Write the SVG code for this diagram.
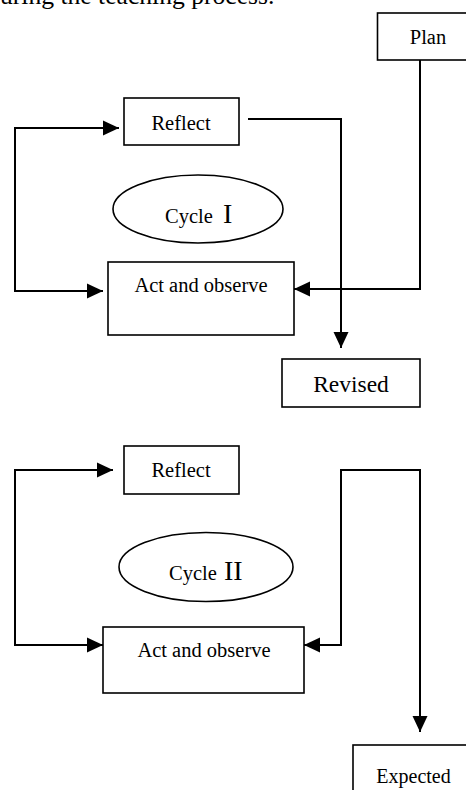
<svg xmlns="http://www.w3.org/2000/svg" width="466" height="790" viewBox="0 0 466 790">
<style>
.box{fill:#fff;stroke:#000;stroke-width:1.6}
.conn{fill:none;stroke:#000;stroke-width:2}
.t{font-family:"Liberation Serif","Times New Roman",serif;fill:#000}
.m{font-size:20.5px;text-anchor:middle}
</style>
<defs>
<marker id="arr" viewBox="0 0 16 16" refX="16" refY="8" markerWidth="16" markerHeight="16" markerUnits="userSpaceOnUse" orient="auto-start-reverse">
<path d="M0,0.5 L16,8 L0,15.5 z" fill="#000"/>
</marker>
</defs>
<rect width="466" height="790" fill="#fff"/>
<text class="t" x="0" y="4" font-size="25.6">uring the teaching process.</text>

<g id="connectors">
<path class="conn" d="M420,60 V289 H294" marker-end="url(#arr)"/>
<path class="conn" d="M248,119 H341 V348" marker-end="url(#arr)"/>
<path class="conn" d="M119,128 H15 V291 H103" marker-start="url(#arr)" marker-end="url(#arr)"/>
<path class="conn" d="M113,470 H15 V645 H103" marker-start="url(#arr)" marker-end="url(#arr)"/>
<path class="conn" d="M420,732 V470 H341 V645 H304" marker-start="url(#arr)" marker-end="url(#arr)"/>
</g>

<g id="plan">
<rect class="box" x="377.5" y="13" width="100" height="47"/>
<text class="t m" x="428" y="44">Plan</text>
</g>
<g id="reflect1">
<rect class="box" x="124" y="98" width="115" height="47"/>
<text class="t m" x="181" y="130">Reflect</text>
</g>
<g id="cycle1">
<ellipse cx="198" cy="209" rx="85" ry="34" fill="#fff" stroke="#000" stroke-width="1.6"/>
<text class="t" x="165" y="223" font-size="20.5">Cycle<tspan x="223" font-size="28">I</tspan></text>
</g>
<g id="act1">
<rect class="box" x="108" y="262" width="186" height="73"/>
<text class="t m" x="201" y="292">Act and observe</text>
</g>
<g id="revised">
<rect class="box" x="282" y="359" width="138" height="48"/>
<text class="t" x="351" y="392" font-size="23.5" text-anchor="middle">Revised</text>
</g>
<g id="reflect2">
<rect class="box" x="124" y="446" width="115" height="48"/>
<text class="t m" x="181" y="477">Reflect</text>
</g>
<g id="cycle2">
<ellipse cx="206" cy="567" rx="87" ry="34.5" fill="#fff" stroke="#000" stroke-width="1.6"/>
<text class="t" x="169" y="580" font-size="20.5">Cycle<tspan x="224" font-size="28">II</tspan></text>
</g>
<g id="act2">
<rect class="box" x="103" y="627" width="201" height="66"/>
<text class="t m" x="204" y="657">Act and observe</text>
</g>
<g id="expected">
<rect class="box" x="353" y="745" width="130" height="60"/>
<text class="t" x="413.5" y="783" font-size="20" text-anchor="middle">Expected</text>
</g>
</svg>
